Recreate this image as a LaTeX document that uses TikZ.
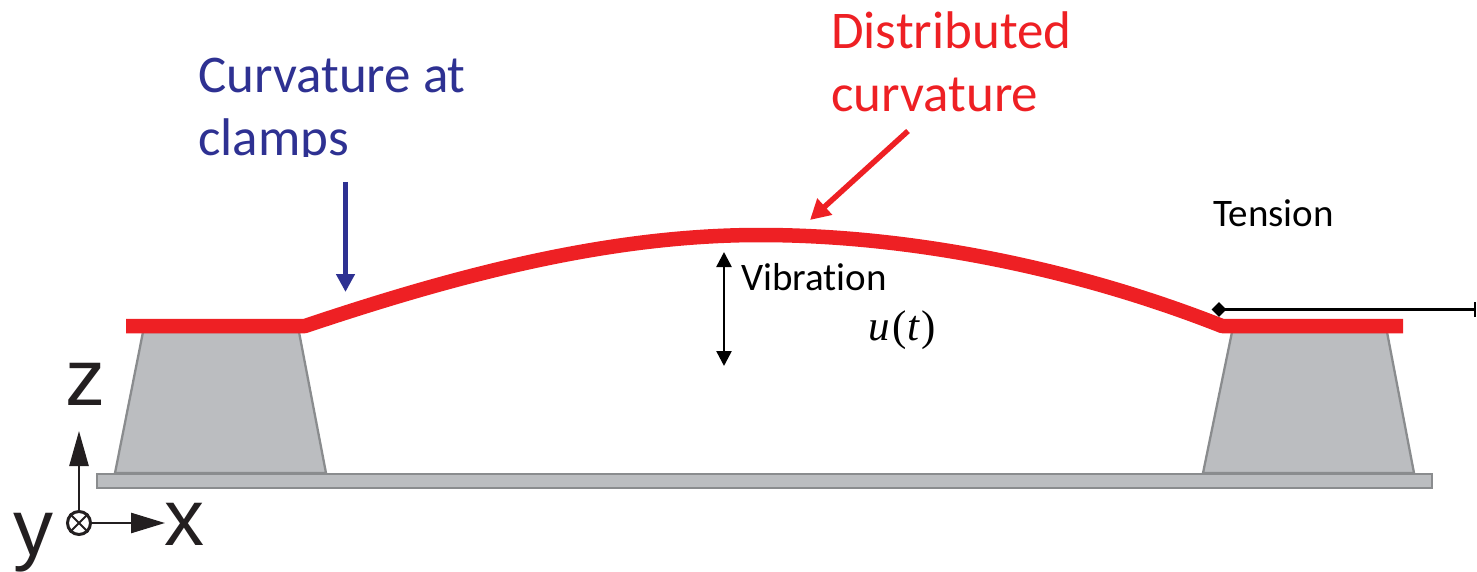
\documentclass[tikz,border=0pt]{standalone}
\usepackage{fontspec}
\setmainfont[Ligatures=NoCommon]{Carlito}
\newfontfamily\axisfont{Liberation Sans}
\newfontfamily\mathserif{Liberation Serif}
\usetikzlibrary{arrows.meta,shapes.geometric}
\definecolor{beamred}{HTML}{EE2024}
\definecolor{navyblue}{HTML}{2E3192}
\definecolor{padgray}{HTML}{BBBDC0}
\definecolor{edgegray}{HTML}{8A8C8E}
\definecolor{axisblack}{HTML}{231F20}
\tikzset{
  x=1pt,y=-1pt,
  pad/.style={fill=padgray,draw=edgegray,line width=2.3pt,line join=miter},
  beam/.style={draw=beamred,line width=14.5pt,line join=bevel},
  bigtext/.style={font=\fontsize{53}{63}\selectfont,anchor=base west,inner sep=0pt},
  smalltext/.style={font=\fontsize{39}{40}\selectfont,anchor=base west,inner sep=0pt,text=black},
  axislabel/.style={font=\axisfont\fontsize{80}{80}\selectfont,text=axisblack,anchor=base,inner sep=0pt},
  axisline/.style={draw=axisblack,line width=2.6pt},
}
\begin{document}
\begin{tikzpicture}
\useasboundingbox (0,0) rectangle (1477,572);
% base and clamps
\path[pad] (97,474) rectangle (1432,488);
\path[pad] (143,332) -- (299,332) -- (326,473) -- (115,473) -- cycle;
\path[pad] (1232,332) -- (1387,332) -- (1414,473) -- (1203,473) -- cycle;
% beam
\coordinate (bL) at (126,326);
\coordinate (bA) at (305,326);
\coordinate (bT) at (760,235);
\coordinate (bB) at (1222,326);
\coordinate (bR) at (1403,326);
\draw[beam] (bL) -- (bA) .. controls (460,274) and (610,235) .. (bT)
  .. controls (910,235) and (1075,268) .. (bB) -- (bR);
% labels
\node[bigtext,text=navyblue] (curv) at (198,93) {Curvature at};
\begin{scope}
  \clip (190,100) rectangle (480,157);
  \node[bigtext,text=navyblue] (clamps) at (198,156) {clamps};
\end{scope}
\node[bigtext,text=beamred] (dist) at (831,49) {Distributed};
\node[bigtext,text=beamred] (dcurv) at (831,112) {curvature};
\node[smalltext] (vib) at (741,290) {Vibration};
\node[smalltext] (ten) at (1213,226) {Tension};
\node[font=\mathserif\fontsize{43}{43}\selectfont,anchor=center,inner sep=0pt] (ut) at (902,330) {\textit{u}\kern2pt(\kern1pt\textit{t}\kern1pt)};
% pointers
\coordinate (a1) at (345.5,182);
\coordinate (a2) at (345.5,292);
\draw[navyblue,line width=5.5pt,-{Triangle[length=18pt,width=18pt]}] (a1) -- (a2);
\coordinate (r1) at (908,131);
\coordinate (r2) at (810,220);
\draw[beamred,line width=5.5pt,-{Triangle[length=20pt,width=21pt]}] (r1) -- (r2);
\coordinate (v1) at (724,252);
\coordinate (v2) at (724,366);
\draw[black,line width=2.5pt,{Triangle[length=15pt,width=15pt]}-{Triangle[length=15pt,width=15pt]}] (v1) -- (v2);
\node[diamond,fill=black,inner sep=0pt,minimum width=15pt,minimum height=15pt] (d) at (1219,309.5) {};
\coordinate (t2) at (1476,309.5);
\draw[black,line width=2.5pt,-{Bar[width=15pt,line width=2.5pt]}] (d.center) -- (t2);
% axes
\node[circle,draw=axisblack,line width=3pt,minimum size=23pt,inner sep=0pt] (o) at (79,523) {};
\draw[axisline,line width=2pt] (o.north west) -- (o.south east) (o.north east) -- (o.south west);
\coordinate (zt) at (79,431);
\coordinate (xt) at (165,523);
\draw[axisline,-{Triangle[length=35pt,width=19pt]}] (o.north) -- (zt);
\draw[axisline,-{Triangle[length=34pt,width=20pt]}] (o.east) -- (xt);
\node[axislabel] (lz) at (85,405) {z};
\node[axislabel] (lx) at (184,545) {x};
\node[axislabel] (ly) at (33,555) {y};
\end{tikzpicture}
\end{document}
